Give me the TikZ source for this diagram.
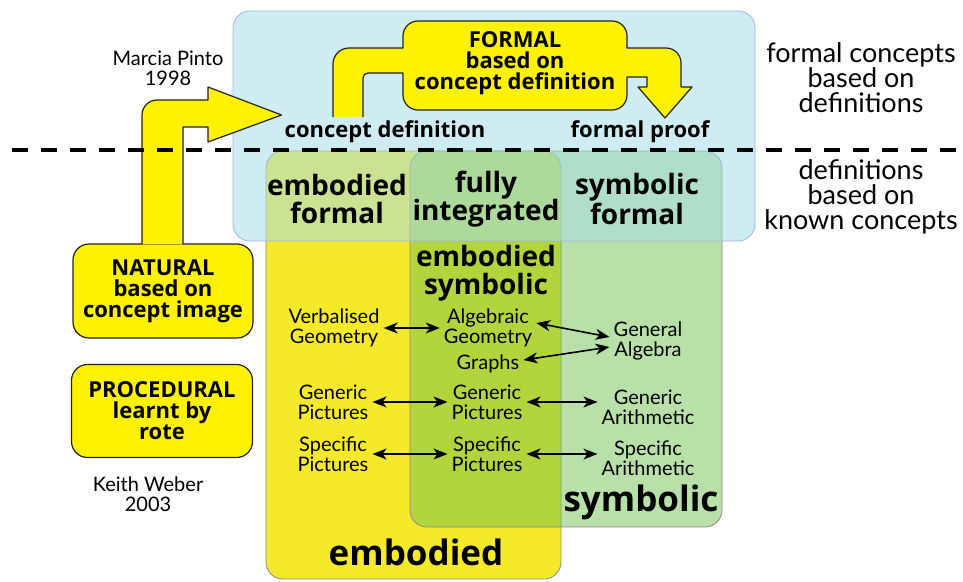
\documentclass[tikz,border=0pt]{standalone}
\usepackage{fontspec}
\setmainfont{Lato}
\newfontfamily\labelfont{Open Sans}
\usetikzlibrary{arrows.meta}
\definecolor{arrowyellow}{HTML}{FFF200}
\definecolor{bodyyellow}{HTML}{F4EA2A}
\definecolor{symbgreen}{HTML}{71C151}
\definecolor{formalblue}{HTML}{AADDE9}
\definecolor{formaledge}{HTML}{9FB7E0}
\definecolor{boxedge}{HTML}{8A8A8A}
\definecolor{inkline}{HTML}{222222}

\begin{document}
\begin{tikzpicture}[x=1pt, y=-1pt,
    yellowbox/.style={draw=inkline, line width=1.2pt, fill=arrowyellow, rounded corners=16pt},
    bigarrow/.style={draw=inkline, line width=1.2pt, fill=arrowyellow, line join=round},
    boldlabel/.style={font=\labelfont\bfseries\fontsize{22}{21}\selectfont, align=center, inner sep=0pt},
    headlabel/.style={font=\labelfont\bfseries\fontsize{28}{28}\selectfont, align=center, inner sep=0pt},
    worldlabel/.style={font=\labelfont\bfseries\fontsize{35}{35}\selectfont, inner sep=0pt},
    sidelabel/.style={font=\fontsize{27}{25}\selectfont, align=center, inner sep=0pt},
    namelabel/.style={font=\fontsize{20}{20}\selectfont, align=center, inner sep=0pt},
    itemlabel/.style={font=\fontsize{20}{20}\selectfont, align=center, inner sep=4pt},
    link/.style={{Stealth[length=14pt, width=11pt, inset=4pt]}-{Stealth[length=14pt, width=11pt, inset=4pt]}, line width=1.6pt}]
    \useasboundingbox (0,0) rectangle (963,581);

    %worlds
    \draw[draw=boxedge, line width=0.8pt, fill=bodyyellow, rounded corners=17pt] (266,151) rectangle (561,579);
    \draw[draw=boxedge, line width=0.8pt, fill=symbgreen, fill opacity=0.5, rounded corners=17pt] (410,151) rectangle (722,527);
    \draw[draw=formaledge, line width=0.8pt, fill=formalblue, fill opacity=0.55, rounded corners=17pt] (233,11) rectangle (755,241);

    %natural and procedural
    \node[yellowbox, boldlabel, minimum width=180pt, minimum height=94pt] (natural) at (163,291) {NATURAL\\based on\\concept image};
    \node[yellowbox, boldlabel, minimum width=181pt, minimum height=93pt] (procedural) at (162,411) {PROCEDURAL\\learnt by\\rote};
    \node[boldlabel] (cdef) at (385,132) {concept definition};
    \node[boldlabel] (fproof) at (640,132) {formal proof};

    %arrow to concept definition
    \draw[bigarrow] ([xshift=20pt,yshift=-1pt]natural.north) -- (183,127) -- (208,127) -- (208,142)
        -- ([xshift=-3pt,yshift=17pt]cdef.west) -- (208,87) -- (208,100)
        -- (157,100) arc[start angle=90, end angle=180, radius=15pt]
        -- ([xshift=-21pt,yshift=-1pt]natural.north);

    %formal box with its two arrows
    \draw[bigarrow] (333,117) -- (333,64) arc[start angle=180, end angle=90, radius=16pt]
        -- (403,48) -- (403,36) arc[start angle=180, end angle=90, radius=15pt]
        -- (612,21) arc[start angle=90, end angle=0, radius=15pt]
        -- (627,48) -- (666,48) arc[start angle=90, end angle=0, radius=15pt]
        -- (681,87) -- (692,87) -- (665,118) -- (638,87) -- (647,87) -- (647,77) -- (627,77)
        -- (627,95) arc[start angle=0, end angle=-90, radius=15pt]
        -- (418,110) arc[start angle=270, end angle=180, radius=15pt]
        -- (403,73) -- (368,73) arc[start angle=90, end angle=180, radius=5pt]
        -- (363,117);
    \node[boldlabel] (formal) at (515,63) {FORMAL\\based on\\concept definition};

    %divider
    \draw[line width=4pt, dash pattern=on 16pt off 13pt] (12,150) -- (963,150);

    %labels
    \node[namelabel] (pinto) at (168,68) {Marcia Pinto\\1998};
    \node[namelabel] (weber) at (148,494) {Keith Weber\\2003};
    \node[sidelabel] (upper) at (861,78) {formal concepts\\based on\\definitions};
    \node[sidelabel] (lower) at (861,197) {definitions\\based on\\known concepts};
    \node[headlabel] (embformal) at (337,199) {embodied\\formal};
    \node[headlabel] (fullint) at (486,199) {fully\\integrated};
    \node[headlabel] (symformal) at (637,199) {symbolic\\formal};
    \node[headlabel] (embsym) at (486,273) {embodied\\symbolic};
    \node[worldlabel] (symbolic) at (641,502) {symbolic};
    \node[worldlabel] (embodied) at (416,552) {embodied};

    %items
    \node[itemlabel] (vgeom) at (334,328) {Verbalised\\Geometry};
    \node[itemlabel] (ageom) at (488,328) {Algebraic\\Geometry};
    \node[itemlabel] (graphs) at (488,364) {Graphs};
    \node[itemlabel] (galg) at (648,341) {General\\Algebra};
    \node[itemlabel] (gpic1) at (333,402) {Generic\\Pictures};
    \node[itemlabel] (gpic2) at (487,402) {Generic\\Pictures};
    \node[itemlabel] (garith) at (648,407) {Generic\\Arithmetic};
    \node[itemlabel] (spic1) at (333,454) {Specific\\Pictures};
    \node[itemlabel] (spic2) at (487,454) {Specific\\Pictures};
    \node[itemlabel] (sarith) at (648,458) {Specific\\Arithmetic};

    %links
    \draw[link] (vgeom) -- (ageom);
    \draw[link] ([yshift=5pt]ageom.east) -- ([yshift=4pt]galg.west);
    \draw[link] ([yshift=4pt]graphs.east) -- ([yshift=-6pt]galg.west);
    \draw[link] (gpic1) -- (gpic2);
    \draw[link] (gpic2.east) -- (gpic2.east -| garith.west);
    \draw[link] (spic1) -- (spic2);
    \draw[link] (spic2.east) -- (spic2.east -| sarith.west);
\end{tikzpicture}
\end{document}
